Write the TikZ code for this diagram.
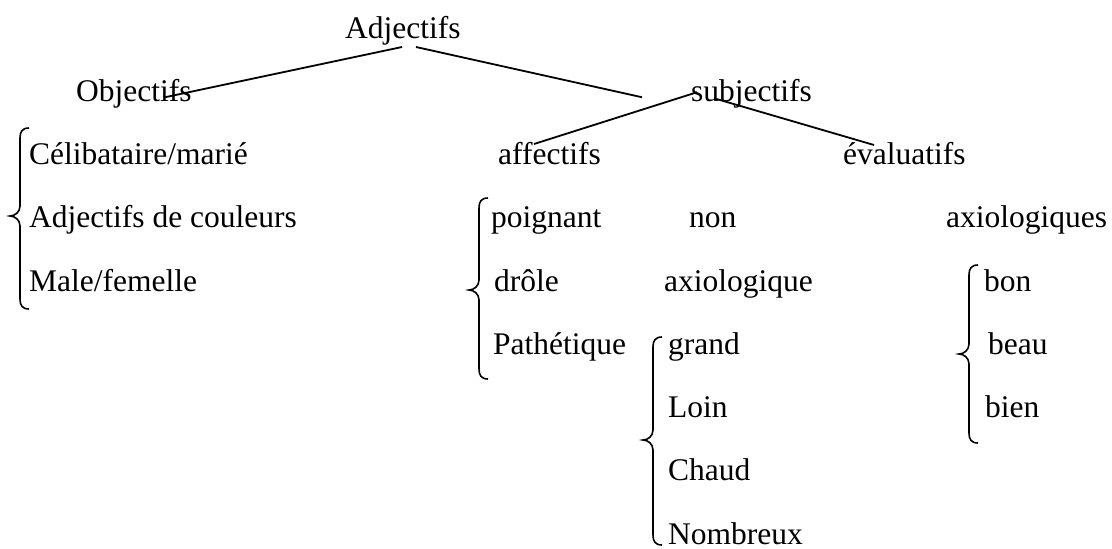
\documentclass[tikz,border=0pt]{standalone}
\usepackage{fontspec}
\setmainfont{Liberation Serif}
% #1 = x of the stem, #2 = top, #3 = tip, #4 = bottom
\newcommand{\drawbrace}[4]{%
  \draw[bracestyle] (#1+9,#2) .. controls (#1+2,#2) and (#1,#2+4) .. (#1,#2+10)
    -- (#1,#3-10) .. controls (#1,#3-4) and (#1-5,#3) .. (#1-10,#3)
    .. controls (#1-5,#3) and (#1,#3+4) .. (#1,#3+10)
    -- (#1,#4-10) .. controls (#1,#4-4) and (#1+2,#4) .. (#1+9,#4);
}

\begin{document}
\begin{tikzpicture}[x=1pt,y=-1pt,
    word/.style={anchor=base west,inner sep=0pt,font=\fontsize{31.5}{38}\selectfont},
    link/.style={line width=1.8pt},
    bracestyle/.style={line width=1.6pt}]
    \useasboundingbox (0,0) rectangle (1112,549);
    \node[word] (adj) at (345,38) {Adjectifs};
    \node[word] (obj) at (76,101.25) {Objectifs};
    \node[word] (subj) at (691,101.25) {subjectifs};
    \node[word] (aff) at (498,164.5) {affectifs};
    \node[word] (eval) at (843,164.5) {évaluatifs};
    % objectifs
    \node[word] (cel) at (29,164.5) {Célibataire/marié};
    \node[word] (coul) at (29,227.75) {Adjectifs de couleurs};
    \node[word] (male) at (29,291) {Male/femelle};
    % affectifs
    \node[word] (poig) at (491,227.75) {poignant};
    \node[word] (drole) at (494,291) {drôle};
    \node[word] (path) at (493,354.25) {Pathétique};
    % non axiologiques
    \node[word] (non) at (689,227.75) {non};
    \node[word] (axio) at (664,291) {axiologique};
    \node[word] (grand) at (668,354.25) {grand};
    \node[word] (loin) at (668,417.5) {Loin};
    \node[word] (chaud) at (668,480.75) {Chaud};
    \node[word] (nomb) at (668,544) {Nombreux};
    % axiologiques
    \node[word] (axios) at (946,227.75) {axiologiques};
    \node[word] (bon) at (984,291) {bon};
    \node[word] (beau) at (988,354.25) {beau};
    \node[word] (bien) at (985,417.5) {bien};
    \draw[link] ([shift={(57,9)}]adj.base west) -- ([shift={(89,-4)}]obj.base west);
    \draw[link] ([shift={(71,9)}]adj.base west) -- ([shift={(-49,-4)}]subj.base west);
    \draw[link] ([shift={(6,-9)}]subj.base west) -- ([shift={(36,-20.5)}]aff.base west);
    \draw[link] ([shift={(23,-3)}]subj.base west) -- ([shift={(31,-19.5)}]eval.base west);
    \drawbrace{20}{128}{216}{309}
    \drawbrace{479}{198}{290}{379}
    \drawbrace{653}{337}{440}{545}
    \drawbrace{969}{265}{354}{443}
\end{tikzpicture}
\end{document}
